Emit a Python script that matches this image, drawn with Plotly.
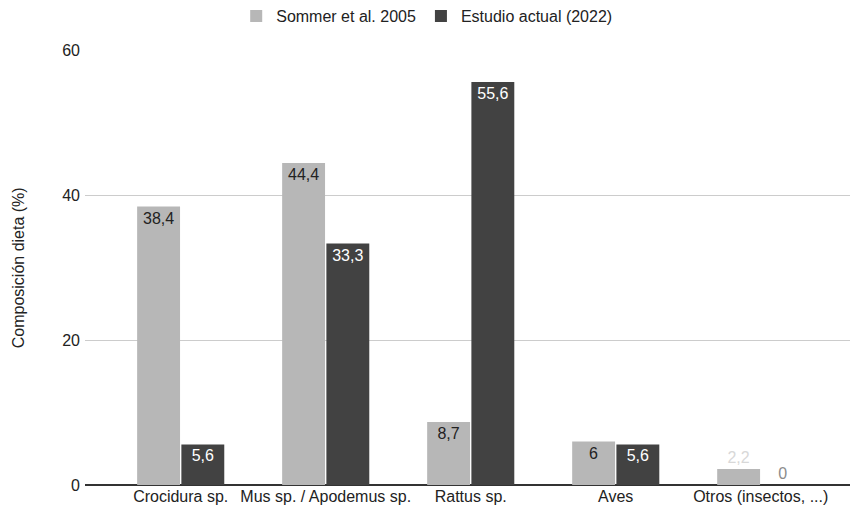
import plotly.graph_objects as go

categories = ["Crocidura sp.", "Mus sp. / Apodemus sp.", "Rattus sp.", "Aves", "Otros (insectos, ...)"]
sommer_2005 = [38.4, 44.4, 8.7, 6, 2.2]
estudio_2022 = [5.6, 33.3, 55.6, 5.6, 0]
y_ticks = [0, 20, 40, 60]

LIGHT = "#b7b7b7"
DARK = "#424242"
FONT = "Liberation Sans, Arial, sans-serif"


def fmt(v):
    return f"{v:g}".replace(".", ",")


def label_style(vals, inside_color, outside_color):
    pos = ["inside" if v >= 4 else "outside" for v in vals]
    col = [inside_color if v >= 4 else outside_color for v in vals]
    return pos, col


pos_a, col_a = label_style(sommer_2005, "#222222", "#d8d8d8")
pos_b, col_b = label_style(estudio_2022, "#ffffff", "#8c8c8c")

fig = go.Figure()
fig.add_trace(go.Bar(
    x=categories, y=sommer_2005, name="Sommer et al. 2005",
    marker=dict(color=LIGHT, line=dict(width=0)),
    text=[fmt(v) for v in sommer_2005],
    textposition=pos_a, insidetextanchor="end",
    textfont=dict(color=col_a, size=16, family=FONT),
    cliponaxis=False,
))
fig.add_trace(go.Bar(
    x=categories, y=estudio_2022, name="Estudio actual (2022)",
    marker=dict(color=DARK, line=dict(width=0)),
    text=[fmt(v) for v in estudio_2022],
    textposition=pos_b, insidetextanchor="end",
    textfont=dict(color=col_b, size=16, family=FONT),
    cliponaxis=False,
))

# y-axis title as a rotated annotation so it sits at the far left edge
fig.add_annotation(
    text="Composición dieta (%)", textangle=-90,
    xref="paper", yref="paper", x=-0.086, y=0.5,
    xanchor="center", yanchor="middle", showarrow=False,
    font=dict(size=16, family=FONT, color="#222222"),
)

# page body adds ~8px offset, margins compensate so plot sits at 85..855 x 50..485 on screen
fig.update_layout(
    width=858, height=511,
    barmode="group", bargap=0.39, bargroupgap=0.03,
    paper_bgcolor="white", plot_bgcolor="white",
    font=dict(family=FONT, size=16, color="#222222"),
    margin=dict(l=77, r=11, t=42, b=34, autoexpand=False),
    uniformtext=dict(minsize=8, mode="show"),
    legend=dict(orientation="h", x=0.488, xanchor="center", xref="container",
                y=1.078, yanchor="middle", yref="paper",
                font=dict(size=16), itemsizing="constant"),
    xaxis=dict(range=[-0.66, 4.65], showgrid=False, ticks="", tickfont=dict(size=16),
               showline=False, zeroline=False, automargin=False),
    yaxis=dict(range=[0, 60], tickvals=y_ticks, ticktext=[str(t) for t in y_ticks],
               showgrid=True, gridcolor="#cccccc", gridwidth=1, zeroline=True,
               zerolinecolor="#333333", zerolinewidth=1.5, ticks="", tickfont=dict(size=16),
               ticklabelstandoff=4, automargin=False),
)

fig.write_html("out.html")
